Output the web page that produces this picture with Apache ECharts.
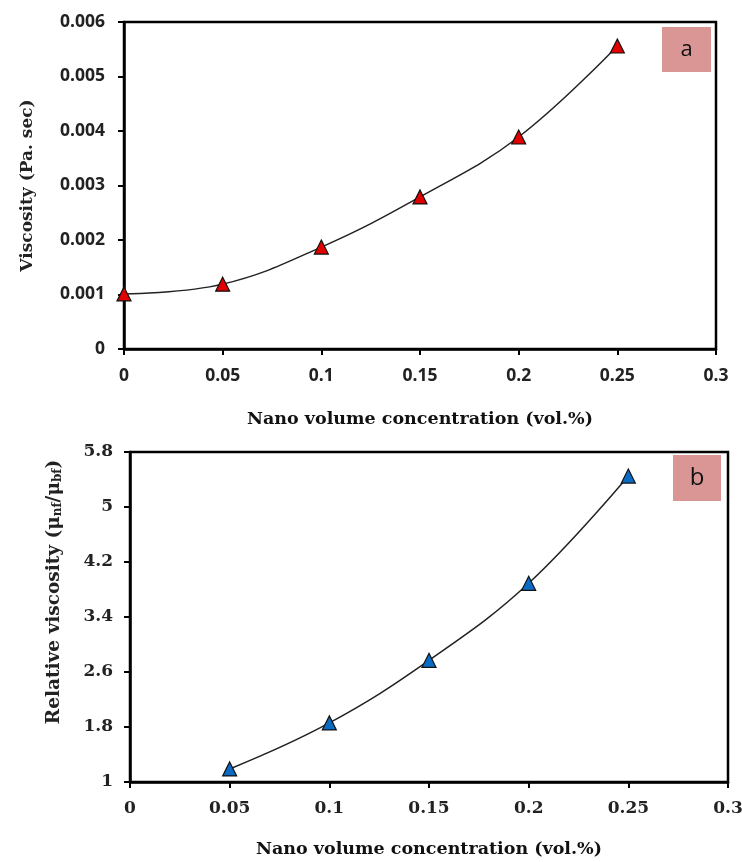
<!DOCTYPE html>
<html>
<head>
<meta charset="utf-8">
<script src="https://cdn.jsdelivr.net/npm/echarts@6/dist/echarts.min.js"></script>
<style>
  html, body { margin: 0; padding: 0; background: #ffffff; }
  #chart { width: 742px; height: 862px; }
</style>
</head>
<body>
<div id="chart"></div>
<script>
// data
const concentration = [0, 0.05, 0.1, 0.15, 0.2, 0.25];
const viscosity = [0.00101, 0.00119, 0.00187, 0.00279, 0.00389, 0.00556];
const relConcentration = [0.05, 0.1, 0.15, 0.2, 0.25];
const relViscosity = [1.19, 1.86, 2.77, 3.89, 5.45];

const sansFont = "'Open Sans', 'Liberation Sans', sans-serif";
const serifFont = "'DejaVu Serif', 'Liberation Serif', serif";

function pairs(xs, ys) {
  return xs.map((x, i) => [x, ys[i]]);
}

const axisLine = { lineStyle: { color: "#000", width: 2.5 } };
const axisTick = { inside: false, length: 6, lineStyle: { color: "#000", width: 2 } };

let myEcharts = echarts.init(document.getElementById("chart"));
myEcharts.setOption({
  animation: false,
  grid: [
    { left: 124, top: 22, width: 592, height: 327, show: true, borderColor: "#000", borderWidth: 2.5, outerBoundsMode: "none" },
    { left: 130, top: 452, width: 598, height: 330, show: true, borderColor: "#000", borderWidth: 2.5, outerBoundsMode: "none" }
  ],
  xAxis: [
    {
      gridIndex: 0, type: "value", min: 0, max: 0.3, interval: 0.05,
      axisLine: axisLine, axisTick: axisTick, splitLine: { show: false },
      axisLabel: { color: "#222", fontFamily: sansFont, fontWeight: "bold", fontSize: 17.5, margin: 18 },
      name: "Nano volume concentration (vol.%)", nameLocation: "middle", nameGap: 61,
      nameTextStyle: { color: "#111", fontFamily: serifFont, fontWeight: "bold", fontSize: 17.5 }
    },
    {
      gridIndex: 1, type: "value", min: 0, max: 0.3, interval: 0.05,
      axisLine: axisLine, axisTick: axisTick, splitLine: { show: false },
      axisLabel: { color: "#222", fontFamily: serifFont, fontWeight: "bold", fontSize: 17, margin: 18 },
      name: "Nano volume concentration (vol.%)", nameLocation: "middle", nameGap: 58,
      nameTextStyle: { color: "#111", fontFamily: serifFont, fontWeight: "bold", fontSize: 17.5 }
    }
  ],
  yAxis: [
    {
      gridIndex: 0, type: "value", min: 0, max: 0.006, interval: 0.001,
      axisLine: axisLine, axisTick: axisTick, splitLine: { show: false },
      axisLabel: { color: "#222", fontFamily: sansFont, fontWeight: "bold", fontSize: 17.5, margin: 19,
        formatter: v => (v === 0 ? "0" : v.toFixed(3)) },
      name: "Viscosity (Pa. sec)", nameLocation: "middle", nameGap: 88,
      nameTextStyle: { color: "#222", fontFamily: serifFont, fontWeight: "bold", fontSize: 17 }
    },
    {
      gridIndex: 1, type: "value", min: 1, max: 5.8, interval: 0.8,
      axisLine: axisLine, axisTick: axisTick, splitLine: { show: false },
      axisLabel: { color: "#222", fontFamily: serifFont, fontWeight: "bold", fontSize: 17, margin: 17,
        formatter: v => String(Math.round(v * 10) / 10) },
      name: "{m|Relative viscosity (μ}{s|nf}{m|/μ}{s|bf}{m|)}", nameLocation: "middle", nameGap: 66,
      nameTextStyle: {
        padding: [0, 0, 0, 50],
        rich: {
          m: { color: "#222", fontFamily: serifFont, fontWeight: "bold", fontSize: 18.5 },
          s: { color: "#222", fontFamily: serifFont, fontWeight: "bold", fontSize: 12, verticalAlign: "bottom", padding: [7, 0, 0, 0] }
        }
      }
    }
  ],
  series: [
    {
      type: "line", xAxisIndex: 0, yAxisIndex: 0, smooth: 0.4,
      data: pairs(concentration, viscosity),
      lineStyle: { color: "#222", width: 1.5 },
      symbol: "triangle", symbolSize: 14,
      itemStyle: { color: "#e00000", borderColor: "#111", borderWidth: 1.2 }
    },
    {
      type: "line", xAxisIndex: 1, yAxisIndex: 1, smooth: 0.4,
      data: pairs(relConcentration, relViscosity),
      lineStyle: { color: "#222", width: 1.5 },
      symbol: "triangle", symbolSize: 14,
      itemStyle: { color: "#0a6bc4", borderColor: "#111", borderWidth: 1.2 }
    }
  ],
  graphic: [
    {
      type: "group", left: 662, top: 27,
      children: [
        { type: "rect", shape: { width: 49, height: 45 }, style: { fill: "#d99694" } },
        { type: "text", x: 24.5, y: 22.5, style: { text: "a", fill: "#111", font: "22px " + sansFont, align: "center", verticalAlign: "middle" } }
      ]
    },
    {
      type: "group", left: 673, top: 455,
      children: [
        { type: "rect", shape: { width: 48, height: 46 }, style: { fill: "#d99694" } },
        { type: "text", x: 24, y: 23, style: { text: "b", fill: "#111", font: "24px " + sansFont, align: "center", verticalAlign: "middle" } }
      ]
    }
  ]
});
window.onresize = () => {
  myEcharts.resize();
};
</script>
</body>
</html>
